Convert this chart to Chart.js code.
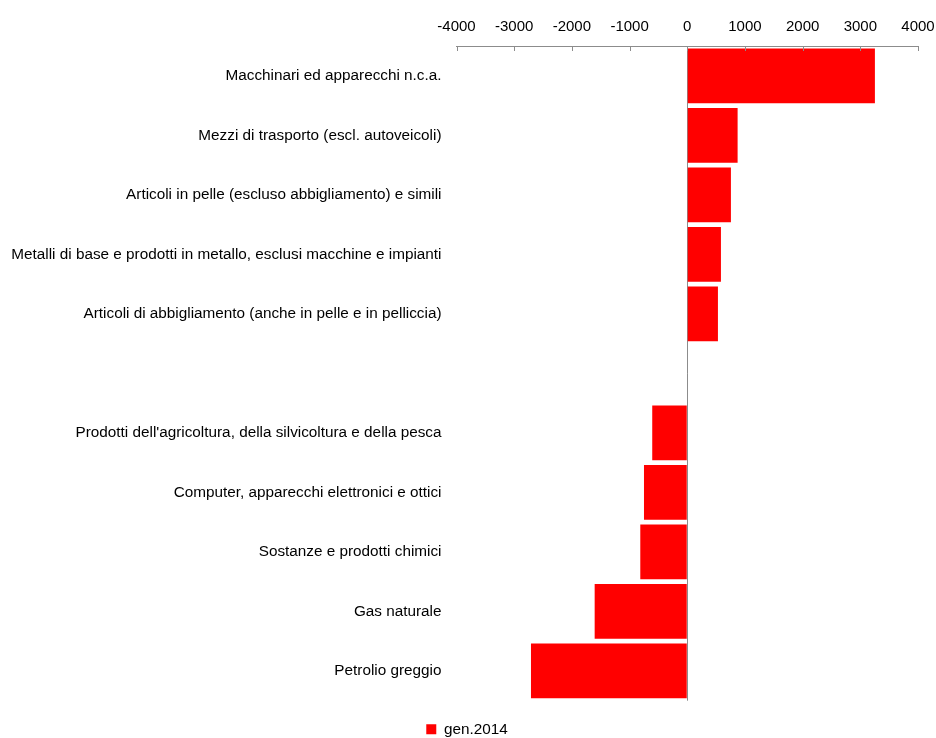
<!DOCTYPE html>
<html>
<head>
<meta charset="utf-8">
<script src="https://cdn.jsdelivr.net/npm/chart.js@4"></script>
<style>
html,body{margin:0;padding:0;background:#fff;}
#wrap{width:936px;height:738px;position:relative;}
</style>
</head>
<body>
<div id="wrap"><canvas id="c" width="936" height="738"></canvas></div>
<script>
const categories = [
  "Macchinari ed apparecchi n.c.a.",
  "Mezzi di trasporto (escl. autoveicoli)",
  "Articoli in pelle (escluso abbigliamento) e simili",
  "Metalli di base e prodotti in metallo, esclusi macchine e impianti",
  "Articoli di abbigliamento (anche in pelle e in pelliccia)",
  "",
  "Prodotti dell'agricoltura, della silvicoltura e della pesca",
  "Computer, apparecchi elettronici e ottici",
  "Sostanze e prodotti chimici",
  "Gas naturale",
  "Petrolio greggio"
];
const values2014 = [3253, 873, 757, 584, 532, null, -607, -750, -814, -1605, -2709];
const seriesName = "gen.2014";
const xTicks = [-4000, -3000, -2000, -1000, 0, 1000, 2000, 3000, 4000];

const FONT = "'Liberation Sans', Arial, sans-serif";

const innerTicks = {
  id: 'innerTicks',
  afterLayout(chart) {
    if (chart.legend) { chart.legend.left += 8; chart.legend.right += 8; }
  },
  afterDraw(chart) {
    const x = chart.scales.x;
    const ctx = chart.ctx;
    const top = chart.chartArea.top;
    ctx.save();
    ctx.strokeStyle = '#8c8c8c';
    ctx.lineWidth = 1;
    xTicks.forEach(v => {
      const px = Math.round(x.getPixelForValue(v)) + 0.5;
      ctx.beginPath();
      ctx.moveTo(px, top);
      ctx.lineTo(px, top + 5);
      ctx.stroke();
    });
    ctx.restore();
  }
};

new Chart(document.getElementById('c'), {
  type: 'bar',
  data: {
    labels: categories,
    datasets: [{
      label: seriesName,
      data: values2014,
      backgroundColor: '#ff0000',
      borderWidth: 0,
      barPercentage: 0.92,
      categoryPercentage: 1.0
    }]
  },
  options: {
    indexAxis: 'y',
    responsive: false,
    animation: false,
    layout: { padding: { left: 0, right: 18, top: 0, bottom: -9 } },
    scales: {
      x: {
        position: 'top',
        min: -4000,
        max: 4000,
        afterBuildTicks(scale) { scale.ticks = xTicks.map(v => ({ value: v })); },
        afterFit(scale) { scale.height = 46; scale.paddingRight = 0; scale.paddingLeft = 0; },
        ticks: {
          color: '#000',
          font: { family: FONT, size: 15 },
          padding: 10,
          maxRotation: 0,
          callback: v => String(v)
        },
        border: { display: true, color: '#8c8c8c', width: 1 },
        grid: {
          drawTicks: false,
          tickLength: 0,
          color: ctx => (ctx.tick && ctx.tick.value === 0) ? '#8c8c8c' : 'rgba(0,0,0,0)',
          lineWidth: 1
        }
      },
      y: {
        afterFit(scale) { scale.width = 456.5; },
        ticks: {
          color: '#000',
          font: { family: FONT, size: 15.3 },
          padding: 15,
          autoSkip: false
        },
        border: { display: false },
        grid: { display: false, drawTicks: false }
      }
    },
    plugins: {
      legend: {
        display: true,
        position: 'bottom',
        labels: {
          boxWidth: 10,
          boxHeight: 10,
          padding: 21,
          color: '#000',
          font: { family: FONT, size: 15.3 }
        }
      },
      tooltip: { enabled: false }
    }
  },
  plugins: [innerTicks]
});
</script>
</body>
</html>
